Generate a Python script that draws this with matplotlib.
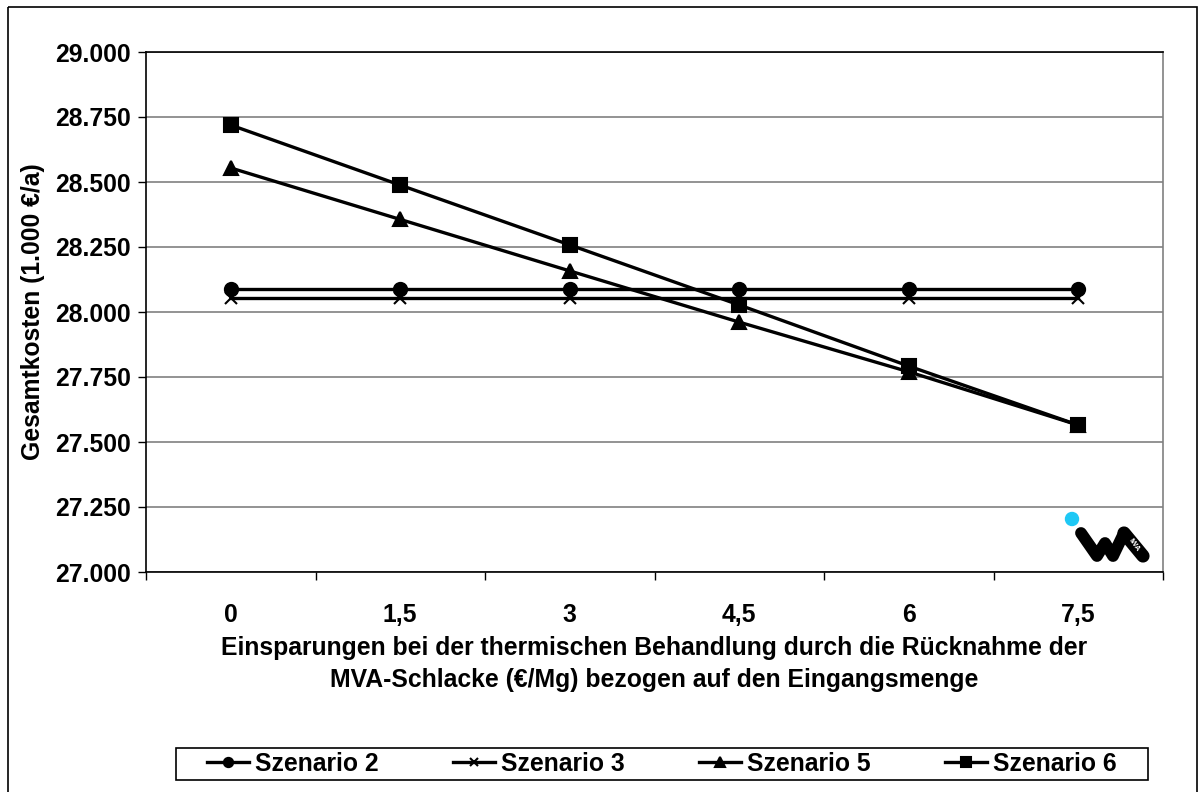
import matplotlib.pyplot as plt
from matplotlib.lines import Line2D
from matplotlib.patches import Rectangle, Circle
from matplotlib.ticker import FixedLocator, FuncFormatter

plt.rcParams.update({
    "font.family": ["Liberation Sans", "DejaVu Sans"],
    "font.weight": "bold",
    "axes.labelweight": "bold",
    "font.size": 17.8,
})

CATEGORIES = ["0", "1,5", "3", "4,5", "6", "7,5"]
SZENARIO_2 = [28088, 28088, 28088, 28088, 28088, 28088]
SZENARIO_3 = [28054, 28054, 28054, 28054, 28054, 28054]
SZENARIO_5 = [28554, 28356, 28158, 27961, 27770, 27565]
SZENARIO_6 = [28719, 28488, 28258, 28027, 27792, 27565]

SERIES = [
    ("Szenario 2", SZENARIO_2, "o", 9.5),
    ("Szenario 3", SZENARIO_3, "x", 8.5),
    ("Szenario 5", SZENARIO_5, "^", 10),
    ("Szenario 6", SZENARIO_6, "s", 9.5),
]

W, H = 1199, 792
fig = plt.figure(figsize=(W / 100, H / 100), dpi=100)
ax = fig.add_axes([146 / W, 1 - 572 / H, (1163 - 146) / W, (572 - 52) / H])

xs = list(range(len(CATEGORIES)))
for label, ys, mk, ms in SERIES:
    ax.plot(xs, ys, color="black", lw=2.4, marker=mk, ms=ms,
            mew=1.5, label=label, clip_on=False, zorder=3)

ax.set_xlim(-0.5, len(CATEGORIES) - 0.5)
ax.set_ylim(27000, 29000)
ax.set_yticks([27000 + 250 * i for i in range(9)])
ax.yaxis.set_major_formatter(FuncFormatter(lambda v, p: f"{v:,.0f}".replace(",", ".")))
ax.yaxis.grid(True, color="#808080", lw=1.2, zorder=0)

ax.set_xticks(xs)
ax.set_xticklabels(CATEGORIES)
ax.xaxis.set_minor_locator(FixedLocator([i - 0.5 for i in range(len(CATEGORIES) + 1)]))
ax.tick_params(axis="x", which="major", length=0, pad=22)
ax.tick_params(axis="x", which="minor", length=6, width=1, direction="out")
ax.tick_params(axis="y", length=6, width=1, direction="out", pad=5)

for side in ("left", "bottom", "top"):
    ax.spines[side].set_color("black")
    ax.spines[side].set_linewidth(1.2)
ax.spines["right"].set_color("#808080")
ax.spines["right"].set_linewidth(1.2)

ax.set_ylabel("Gesamtkosten (1.000 €/a)")
ax.yaxis.set_label_coords(-0.0993, 0.5)
ax.set_xlabel("Einsparungen bei der thermischen Behandlung durch die Rücknahme der\n"
              "MVA-Schlacke (€/Mg) bezogen auf den Eingangsmenge",
              labelpad=7, linespacing=1.42)

fig.legend(loc="center", ncol=4, bbox_to_anchor=(662 / W, 1 - 764 / H),
           frameon=False, handlelength=1.7, handletextpad=0.25,
           columnspacing=3.0, markerscale=0.7)

# overlay for frames and logo (pixel coordinates)
deco = fig.add_axes([0, 0, 1, 1], zorder=-1)
deco.set_xlim(0, W)
deco.set_ylim(H, 0)
deco.axis("off")
deco.add_patch(Rectangle((8, 7), 1189, 800, fill=False, ec="black", lw=1.2))
deco.add_patch(Rectangle((176, 748), 972, 32, fill=False, ec="black", lw=1.2))

logo = fig.add_axes([0, 0, 1, 1], zorder=5)
logo.set_xlim(0, W)
logo.set_ylim(H, 0)
logo.axis("off")
logo.add_patch(Circle((1072, 519), 6.5, color="#1ec8f5"))
logo.add_line(Line2D([1081, 1097, 1105, 1113, 1124], [533, 556, 543, 556, 533],
                     color="black", lw=8.5, solid_capstyle="round", solid_joinstyle="round"))
logo.add_line(Line2D([1124, 1143], [533, 556], color="black", lw=9.5, solid_capstyle="round"))
logo.text(1134, 545, "IWA", color="white", fontsize=5.5, rotation=-55,
          ha="center", va="center")

fig.savefig("out.png", dpi=100)
